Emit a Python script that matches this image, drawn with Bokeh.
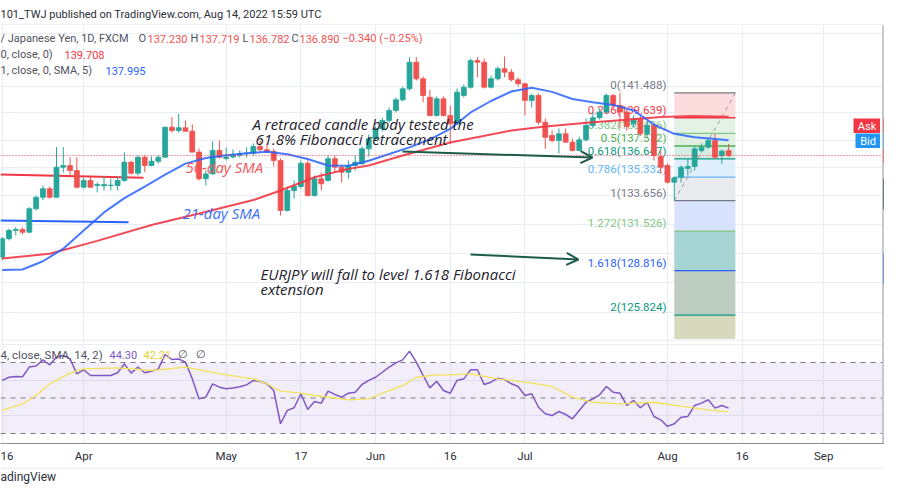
import numpy as np
import pandas as pd
from bokeh.plotting import figure
from bokeh.layouts import column
from bokeh.models import Range1d, FixedTicker, Arrow, OpenHead, ColumnDataSource
from bokeh.embed import file_html
from bokeh.resources import INLINE
from bokeh.core.properties import value

# ---------------- data ----------------
dates = pd.bdate_range("2022-03-16", "2022-08-12")          # 108 daily bars
axis_dates = pd.bdate_range("2022-03-16", "2022-09-30")

open_ = [129.73, 131.00, 131.57, 131.64, 131.45, 133.09, 133.90, 134.50, 133.90, 136.04,
         136.16, 135.80, 134.61, 135.09, 134.73, 134.71, 134.73, 134.73, 135.09, 136.40,
         135.61, 136.76, 136.16, 136.47, 136.76, 138.94, 138.70, 138.90, 138.65, 137.13,
         135.21, 135.56, 137.25, 136.66, 136.78, 136.90, 137.01, 137.05, 137.54, 137.30,
         137.18, 136.52, 132.97, 134.38, 134.66, 136.32, 134.02, 135.21, 135.09, 136.65,
         136.04, 135.68, 136.16, 136.28, 137.37, 138.10, 138.83, 139.44, 140.18, 140.97,
         141.79, 143.79, 142.54, 141.16, 139.81, 141.04, 139.81, 139.19, 141.29, 141.91,
         143.92, 143.79, 141.91, 142.54, 143.30, 143.04, 142.47, 142.17, 140.92, 141.29,
         139.31, 138.34, 137.97, 138.46, 137.85, 137.25, 138.02, 139.07, 139.64, 140.06,
         141.29, 140.55, 140.06, 139.19, 139.57, 138.46, 139.07, 136.81, 136.16, 134.97,
         135.32, 135.95, 136.09, 137.25, 137.49, 137.97, 136.88, 137.230]
high = [131.11, 131.69, 131.80, 131.78, 133.20, 134.02, 134.73, 134.66, 137.49, 137.49,
        136.74, 136.74, 135.30, 135.37, 134.95, 135.37, 135.23, 135.37, 137.10, 136.52,
        136.88, 136.88, 136.81, 136.88, 138.99, 139.69, 139.94, 139.44, 139.14, 137.39,
        135.80, 137.90, 137.97, 137.47, 137.32, 137.25, 137.47, 137.76, 137.97, 137.76,
        137.39, 136.67, 134.66, 135.09, 136.52, 136.52, 135.44, 135.66, 136.88, 136.88,
        136.16, 136.52, 136.88, 137.54, 138.41, 139.00, 139.66, 140.40, 141.14, 141.96,
        144.18, 144.18, 142.72, 141.72, 141.22, 141.22, 140.55, 141.81, 142.11, 144.07,
        144.18, 144.07, 142.79, 143.47, 144.24, 143.27, 142.64, 142.26, 141.44, 141.44,
        139.59, 138.70, 138.85, 138.85, 138.12, 138.26, 139.59, 140.03, 140.33, 141.44,
        141.40, 141.488, 140.30, 139.80, 139.75, 139.35, 139.20, 137.25, 136.30, 135.37,
        136.16, 136.67, 137.54, 137.76, 138.19, 138.46, 137.32, 137.719]
low = [129.51, 130.88, 131.22, 131.29, 131.40, 132.97, 133.70, 133.81, 133.88, 135.66,
       135.30, 134.52, 134.52, 134.59, 134.24, 134.38, 134.38, 134.38, 135.00, 135.51,
       135.44, 135.68, 136.09, 136.30, 136.74, 138.55, 138.55, 138.63, 137.10, 135.09,
       134.73, 135.51, 136.67, 136.52, 136.67, 136.74, 136.74, 136.88, 137.18, 137.10,
       136.09, 132.62, 132.90, 133.81, 134.52, 133.95, 133.95, 134.38, 135.02, 135.66,
       134.95, 135.23, 135.80, 136.23, 136.81, 137.97, 138.63, 139.29, 140.03, 140.84,
       141.66, 142.41, 140.79, 139.73, 139.73, 139.73, 137.73, 139.10, 141.14, 141.81,
       142.66, 141.81, 141.81, 142.41, 142.66, 142.34, 141.96, 139.81, 140.40, 139.14,
       137.37, 137.83, 137.03, 137.83, 137.18, 137.18, 137.90, 138.92, 139.51, 139.96,
       140.31, 138.85, 138.70, 138.95, 138.30, 138.20, 136.52, 135.59, 134.88, 133.656,
       134.95, 135.44, 135.80, 137.10, 137.39, 136.65, 136.28, 136.782]
close = [131.00, 131.57, 131.64, 131.45, 133.09, 133.90, 134.50, 133.90, 136.04, 136.16,
         135.80, 134.61, 135.09, 134.61, 134.80, 134.80, 134.76, 135.09, 136.40, 135.61,
         136.76, 136.16, 136.47, 136.76, 138.94, 138.70, 138.90, 138.65, 137.13, 135.21,
         135.56, 137.25, 136.76, 136.78, 136.90, 137.01, 137.05, 137.54, 137.30, 137.18,
         136.52, 132.97, 134.38, 134.66, 136.32, 134.02, 135.21, 134.85, 136.65, 136.04,
         135.68, 136.16, 136.40, 137.37, 138.10, 138.83, 139.44, 140.18, 140.97, 141.79,
         143.79, 142.54, 141.29, 139.81, 141.04, 139.81, 139.19, 141.54, 141.91, 143.92,
         143.79, 141.91, 142.54, 143.30, 143.04, 142.47, 142.17, 140.92, 141.29, 139.31,
         138.21, 137.97, 138.46, 137.85, 137.25, 138.02, 139.07, 139.64, 140.06, 141.29,
         140.55, 140.06, 139.00, 139.57, 138.46, 139.07, 136.88, 136.04, 134.97, 135.28,
         136.04, 136.09, 137.37, 137.49, 137.97, 136.76, 137.20, 136.890]

sma50_bar = [0, 7, 14, 22, 29, 37, 41, 46, 51, 54, 59, 66, 75, 80, 87, 92, 97, 102, 107]
sma50 = [129.64, 129.96, 130.85, 131.95, 132.75, 133.70, 134.38, 135.32, 135.92, 136.16,
         136.88, 137.83, 138.70, 139.00, 139.31, 139.49, 139.70, 139.77, 139.708]
sma21_bar = [0, 3, 6, 9, 12, 15, 18, 21, 24, 27, 30, 33, 36, 39, 42, 45, 48, 51, 54, 57,
             60, 63, 66, 69, 72, 75, 78, 81, 84, 87, 90, 93, 96, 99, 102, 105, 107]
sma21 = [128.85, 128.89, 129.45, 130.31, 131.57, 132.83, 133.84, 134.66, 135.51, 136.30,
         136.70, 136.90, 137.05, 137.16, 136.98, 136.63, 136.16, 136.14, 136.50, 136.99,
         137.47, 138.05, 138.82, 140.03, 140.88, 141.59, 141.87, 141.56, 141.03, 140.79,
         140.59, 140.18, 139.14, 138.46, 138.21, 138.09, 137.995]

rsi = [59.9, 61.7, 62.1, 62.0, 67.4, 68.0, 71.5, 68.7, 73.0, 74.0, 72.0, 63.6, 65.9, 62.7,
       62.7, 62.7, 62.7, 64.2, 69.2, 64.0, 67.4, 64.2, 65.1, 66.4, 74.5, 71.7, 72.0, 70.2,
       60.8, 49.5, 50.5, 58.0, 56.1, 55.2, 55.6, 56.3, 57.4, 59.9, 59.3, 58.0, 54.2, 35.5,
       43.0, 44.5, 52.4, 43.5, 48.0, 47.1, 53.9, 52.0, 50.5, 52.7, 53.3, 57.6, 59.9, 61.7,
       64.5, 67.4, 69.8, 71.5, 76.4, 70.2, 62.7, 55.7, 59.4, 54.2, 52.7,
       59.9, 60.8, 65.9, 65.9, 57.6, 58.9, 61.2, 60.4, 58.0, 56.5, 51.4, 52.4, 44.8, 41.1,
       40.1, 42.4, 40.7, 38.3, 43.0, 47.6, 49.5, 51.8, 56.5, 53.3, 52.7, 45.8, 48.6, 44.5,
       47.6, 39.6, 37.7, 34.0, 35.5, 39.2, 39.6, 45.8, 47.1, 49.0, 44.3, 45.8, 44.30]
rsi_ma_bar = [0, 3, 5, 7, 10, 12, 17, 22, 27, 32, 37, 39, 41, 44, 46, 49, 51, 54, 56, 59,
              61, 64, 66, 69, 73, 78, 81, 84, 87, 91, 96, 101, 104, 107]
rsi_ma = [43.0, 46.7, 51.4, 58.0, 64.0, 66.4, 67.0, 65.5, 67.4, 63.6, 60.8, 58.0, 53.9,
          52.7, 51.4, 50.0, 49.0, 49.5, 52.7, 57.0, 61.7, 63.0, 63.0, 63.6, 60.8, 58.4,
          56.5, 50.5, 47.6, 46.7, 47.6, 44.8, 43.3, 42.21]

fib_bar = [99, 108]
fib_ratio = ["0", "0.236", "0.382", "0.5", "0.618", "0.786", "1", "1.272", "1.618", "2", "2.618"]
fib_price = [141.488, 139.639, 138.496, 137.572, 136.647, 135.332, 133.656, 131.526,
             128.816, 125.824, 120.984]
fib_line_col = ["#787b86", "#f23645", "#81c784", "#4caf50", "#089981", "#64b5f6", "#787b86",
                "#81c784", "#2962ff", "#089981", "#f23645"]
fib_fill_col = ["#fcd9d9", "#e2f1e3", "#dcefdd", "#d2ebe2", "#dbeefb", "#e7e8ec", "#d4dffd",
                "#9fd1d0", "#b8c9bd", "#d3d6b7"]

tick_dates = ["2022-03-16", "2022-04-01", "2022-05-02", "2022-05-17", "2022-06-01",
              "2022-06-16", "2022-07-01", "2022-08-01", "2022-08-16", "2022-09-01"]
tick_labels = ["16", "Apr", "May", "17", "Jun", "16", "Jul", "Aug", "16", "Sep"]
price_grid = [126, 128, 130, 132, 134, 136, 138, 140, 142, 146]
rsi_grid = [40, 60, 80]

# ---------------- geometry helpers (canvas pixels) ----------------
PXB = 6.789                 # pixels per bar
REF_IDX, REF_PX = 98, 667   # Aug 1 bar sits at x = 667
def bx(px):
    return REF_IDX + (px - REF_PX) / PXB
def py(y):                  # y pixel -> price (log scale)
    return 142.0 * np.exp(-(y - 85.5) / 1894.0)
def ry(y):                  # y pixel -> rsi value
    return 70 - (y - 362) / 1.775

GRID = "#e9edf5"
AXIS = "#8f929b"
RED = "#ef5350"
TEAL = "#26a69a"
BLUE = "#2962ff"
ARW = "#1d5c4a"
W = 884
LF = "11px"     # legend font size

def txt(fig, x, y, s, color, size, align="left", style="normal", font="Roboto",
        baseline="middle", yoff=0):
    fig.text(x=[x], y=[y], text=[s], text_color=color, text_font=value(font),
             text_font_size=size, text_align=align, text_baseline=baseline,
             text_font_style=style, y_offset=yoff)

def bare(fig):
    fig.xgrid.grid_line_color = None
    fig.ygrid.grid_line_color = None

tick_idx = [int(axis_dates.get_loc(pd.Timestamp(d))) for d in tick_dates]

# ---------------- header ----------------
head = figure(width=W, height=25, x_range=Range1d(0, W), y_range=Range1d(25, 0),
              x_axis_location=None, y_axis_location=None, toolbar_location=None,
              output_backend="svg", min_border=0, outline_line_color=None, title=None)
bare(head)
txt(head, 0, 14, "101_TWJ published on TradingView.com, Aug 14, 2022 15:59 UTC",
    "#2a2e39", "11px")
head.segment(x0=[0], y0=[24.5], x1=[W], y1=[24.5], line_color="#e0e3eb", line_width=1)

# ---------------- main price pane ----------------
main = figure(width=W, height=314, x_range=Range1d(bx(0), bx(W)),
              y_range=Range1d(py(339), py(25)), y_axis_type="log",
              x_axis_location=None, y_axis_location=None, toolbar_location=None,
              output_backend="svg", min_border=0, outline_line_color=None, title=None)
main.xgrid.ticker = FixedTicker(ticks=tick_idx)
main.ygrid.ticker = FixedTicker(ticks=price_grid)
main.xgrid.grid_line_color = GRID
main.ygrid.grid_line_color = GRID

# fib fills, lines, labels
for i in range(len(fib_fill_col)):
    main.quad(left=[fib_bar[0]], right=[fib_bar[1]], top=[fib_price[i]], bottom=[fib_price[i + 1]],
              fill_color=fib_fill_col[i], fill_alpha=0.92, line_color=None)
for i in range(len(fib_price)):
    main.line(x=fib_bar, y=[fib_price[i]] * 2, line_color=fib_line_col[i], line_width=1.3)
for i in range(len(fib_price) - 1):
    txt(main, bx(666), fib_price[i], f"{fib_ratio[i]}({fib_price[i]:.3f})", fib_line_col[i],
        "11.5px", align="right", yoff=-8)
main.line(x=[fib_bar[0], fib_bar[1]], y=[fib_price[6], fib_price[0]], line_color="#9598a1",
          line_width=1, line_dash="4 4")

# user drawn horizontal lines at left
main.line(x=[bx(0), bx(128)], y=[py(220), py(221.7)], line_color=BLUE, line_width=2)
main.line(x=[bx(0), bx(143)], y=[py(174), py(177.3)], line_color="#f23645", line_width=2)

# candles
cols = [TEAL if c >= o else RED for o, c in zip(open_, close)]
src = ColumnDataSource(dict(x=list(range(len(dates))), o=open_, h=high, l=low, c=close,
                            top=[max(o, c) for o, c in zip(open_, close)],
                            bot=[min(o, c) for o, c in zip(open_, close)], col=cols))
main.segment(x0="x", y0="l", x1="x", y1="h", line_color="col", line_width=1, source=src)
main.vbar(x="x", width=0.72, top="top", bottom="bot", fill_color="col", line_color="col",
          line_width=0.8, source=src)

# moving averages
main.line(x=sma50_bar, y=sma50, line_color="#f23645", line_width=2, line_alpha=0.9)
main.line(x=sma21_bar, y=sma21, line_color=BLUE, line_width=2, line_alpha=0.85)

# current price line
main.line(x=[bx(0), bx(882)], y=[close[-1]] * 2, line_color="#f23645", line_width=1,
          line_dash="1 2")

# legend rows
GRAYT = "#50535e"
txt(main, bx(0), py(38), "/ Japanese Yen, 1D, FXCM", GRAYT, LF)
for lab, xl, val, xv in [("O", 138, open_[-1], 147), ("H", 190, high[-1], 199),
                         ("L", 242, low[-1], 249), ("C", 291, close[-1], 299)]:
    txt(main, bx(xl), py(38), lab, GRAYT, LF)
    txt(main, bx(xv), py(38), f"{val:.3f}", RED, LF)
txt(main, bx(342), py(38), "\u22120.340 (\u22120.25%)", RED, LF)
txt(main, bx(0), py(54), "0, close, 0)", GRAYT, LF)
txt(main, bx(64), py(54), f"{sma50[-1]:.3f}", "#f23645", LF)
txt(main, bx(0), py(70), "1, close, 0, SMA, 5)", GRAYT, LF)
txt(main, bx(105), py(70), f"{sma21[-1]:.3f}", BLUE, LF)

# annotations
NOTE = "#1e222d"
NF = "15px"
txt(main, bx(252), py(123), "A retraced candle body tested the", NOTE, NF,
    style="italic", font="Open Sans")
txt(main, bx(255), py(138), "61.8% Fibonacci retracement", NOTE, NF,
    style="italic", font="Open Sans")
txt(main, bx(185), py(166), "50-day SMA", "#f05a5f", NF, style="italic", font="Open Sans")
txt(main, bx(182), py(212), "21-day SMA", "#3d6ff5", NF, style="italic", font="Open Sans")
txt(main, bx(260), py(273), "EURJPY will fall to level 1.618 Fibonacci", NOTE, NF,
    style="italic", font="Open Sans")
txt(main, bx(260), py(288), "extension", NOTE, NF, style="italic", font="Open Sans")

main.add_layout(Arrow(end=OpenHead(size=12, line_color=ARW, line_width=2),
                      x_start=bx(402), y_start=py(151), x_end=bx(592), y_end=py(157),
                      line_color=ARW, line_width=2))
main.add_layout(Arrow(end=OpenHead(size=12, line_color=ARW, line_width=2),
                      x_start=bx(470), y_start=py(254), x_end=bx(578), y_end=py(259),
                      line_color=ARW, line_width=2))

# right price scale edge
main.quad(left=[bx(882)], right=[bx(900)], top=[py(0)], bottom=[py(400)],
          fill_color="white", line_color=None)
main.segment(x0=[bx(882.5)], y0=[py(0)], x1=[bx(882.5)], y1=[py(400)], line_color=AXIS,
             line_width=1)
for (x0, x1, y0, y1, col) in [(853, 879.5, 118, 132.5, "#f23645"), (855, 879.5, 133, 147.5, "#2196f3"),
                              (883, 900, 118, 132.5, "#f23645"), (883, 900, 133, 147.5, "#2196f3"),
                              (883, 900, 148, 162.5, "#f23645"), (883, 900, 178, 209, "#0d3326"),
                              (883, 900, 253, 283, BLUE)]:
    main.quad(left=[bx(x0)], right=[bx(x1)], top=[py(y0)], bottom=[py(y1)], fill_color=col,
              line_color=None)
txt(main, bx(866.5), py(125.5), "Ask", "white", "11px", align="center")
txt(main, bx(867.5), py(140.5), "Bid", "white", "11px", align="center")

# ---------------- RSI pane ----------------
rsi_fig = figure(width=W, height=128, x_range=main.x_range, y_range=Range1d(ry(443), ry(339)),
                 x_axis_location="below", y_axis_location=None, toolbar_location=None,
                 output_backend="svg", min_border=0, min_border_bottom=24,
                 outline_line_color=None, title=None)
rsi_fig.xaxis.ticker = FixedTicker(ticks=tick_idx)
rsi_fig.xaxis.major_label_overrides = {t: l for t, l in zip(tick_idx, tick_labels)}
rsi_fig.xaxis.major_tick_out = 0
rsi_fig.xaxis.major_tick_in = 0
rsi_fig.xaxis.minor_tick_out = 0
rsi_fig.xaxis.minor_tick_in = 0
rsi_fig.xaxis.axis_line_color = AXIS
rsi_fig.xaxis.major_label_standoff = 5
rsi_fig.xaxis.major_label_text_font = "Roboto"
rsi_fig.xaxis.major_label_text_font_size = "11.5px"
rsi_fig.xaxis.major_label_text_color = "#2a2e39"
rsi_fig.xgrid.grid_line_color = GRID
rsi_fig.ygrid.ticker = FixedTicker(ticks=rsi_grid)
rsi_fig.ygrid.grid_line_color = GRID

rsi_fig.quad(left=[bx(0)], right=[bx(882)], bottom=[30], top=[70], fill_color="#7e57c2",
             fill_alpha=0.1, line_color=None)
for lvl in [70, 50, 30]:
    rsi_fig.line(x=[bx(0), bx(882)], y=[lvl, lvl], line_color="#787b86", line_width=1,
                 line_dash="5 5")
rsi_fig.line(x=list(range(len(rsi))), y=rsi, line_color="#7e57c2", line_width=1.5)
rsi_fig.line(x=rsi_ma_bar, y=rsi_ma, line_color="#f3e25c", line_width=1.3)
rsi_fig.line(x=[bx(0), bx(W)], y=[ry(339.5)] * 2, line_color="#e0e3eb", line_width=1)

txt(rsi_fig, bx(0), ry(354), "4, close, SMA, 14, 2)", GRAYT, "11.5px")
txt(rsi_fig, bx(109), ry(354), f"{rsi[-1]:.2f}", "#7e57c2", LF)
txt(rsi_fig, bx(143), ry(354), f"{rsi_ma[-1]:.2f}", "#e8cf2e", LF)
txt(rsi_fig, bx(177), ry(354), "\u2205", GRAYT, LF)
txt(rsi_fig, bx(195), ry(354), "\u2205", GRAYT, LF)

rsi_fig.quad(left=[bx(882)], right=[bx(900)], top=[120], bottom=[-20],
             fill_color="white", line_color=None)
rsi_fig.segment(x0=[bx(882.5)], y0=[120], x1=[bx(882.5)], y1=[-20], line_color=AXIS,
                line_width=1)

# ---------------- footer ----------------
foot = figure(width=W, height=17, x_range=Range1d(0, W), y_range=Range1d(484, 467),
              x_axis_location=None, y_axis_location=None, toolbar_location=None,
              output_backend="svg", min_border=0, outline_line_color=None, title=None)
bare(foot)
foot.segment(x0=[0], y0=[467.5], x1=[882], y1=[467.5], line_color="#e0e3eb", line_width=1)
txt(foot, 0, 476.5, "adingView", "#2a2e39", "12px")

layout = column(head, main, rsi_fig, foot)
open("out.html", "w").write(file_html(layout, INLINE))
